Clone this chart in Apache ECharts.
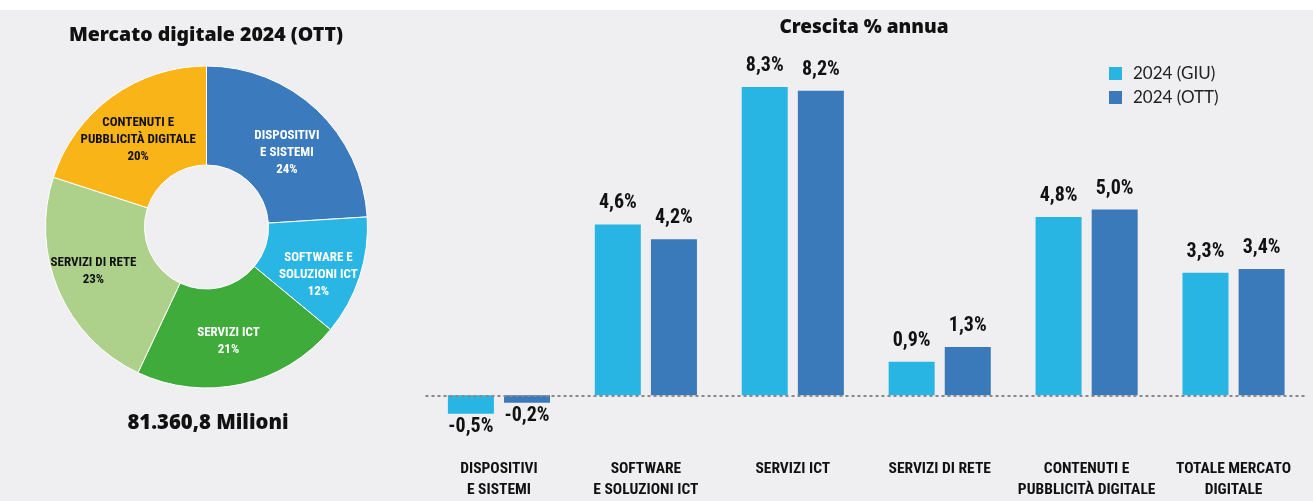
<!DOCTYPE html>
<html>
<head>
<meta charset="utf-8">
<script src="https://cdn.jsdelivr.net/npm/echarts@6/dist/echarts.min.js"></script>
<style>
  html, body { margin: 0; padding: 0; background: #ffffff; }
  #chart { width: 1313px; height: 501px; }
</style>
</head>
<body>
<div id="chart"></div>
<script>
// Growth by market segment (% yearly), two estimates of 2024
const categories = [
  'DISPOSITIVI\nE SISTEMI',
  'SOFTWARE\nE SOLUZIONI ICT',
  'SERVIZI ICT',
  'SERVIZI DI RETE',
  'CONTENUTI E\nPUBBLICITÀ DIGITALE',
  'TOTALE MERCATO\nDIGITALE'
];
const growthGiu = [-0.5, 4.6, 8.3, 0.9, 4.8, 3.3];
const growthOtt = [-0.2, 4.2, 8.2, 1.3, 5.0, 3.4];
const seriesNames = ['2024 (GIU)', '2024 (OTT)'];

// Market composition 2024 (OTT), share of total
const segmentNames = [
  'DISPOSITIVI\nE SISTEMI',
  'SOFTWARE E\nSOLUZIONI ICT',
  'SERVIZI ICT',
  'SERVIZI DI RETE',
  'CONTENUTI E\nPUBBLICITÀ DIGITALE'
];
const segmentShares = [24, 12, 21, 23, 20];
const marketTotal = '81.360,8 Milioni';

const segmentColors = ['#3b7bbd', '#29b6e5', '#3fab3b', '#add18b', '#f9b418'];
const segmentTextColors = ['#ffffff', '#ffffff', '#ffffff', '#111111', '#111111'];
// small nudges so each slice label sits comfortably inside its wedge
const segmentLabelOffsets = [[2, 9], [3, 12], [-3, 3], [-8, -1], [-1, 5]];
const barColors = ['#29b5e3', '#3b7aba'];

const labelFont = '"Roboto Condensed", Roboto, sans-serif';
const heading = '"Noto Sans", "Open Sans", sans-serif';
const legendFont = 'Lato, "Noto Sans", sans-serif';

const pct = v => v.toFixed(1).replace('.', ',') + '%';

const chart = echarts.init(document.getElementById('chart'), null, { renderer: 'canvas' });

const barLabel = {
  show: true,
  position: 'top',
  distance: 11,
  fontFamily: labelFont,
  fontWeight: 'bold',
  fontSize: 20,
  color: '#111111',
  formatter: p => pct(p.value)
};

function barData(values) {
  return values.map(v => ({
    value: v,
    label: v < 0 ? { position: 'bottom', distance: 3 } : undefined
  }));
}

chart.setOption({
  animation: false,
  backgroundColor: 'transparent',
  graphic: [
    {
      type: 'rect', z: -10, silent: true,
      shape: { x: 0, y: 10, width: 1313, height: 491 },
      style: { fill: '#efeff1' }
    },
    {
      type: 'text', x: 206, y: 35,
      style: {
        text: 'Mercato digitale 2024 (OTT)', fill: '#111111',
        font: '900 19.5px ' + heading, align: 'center', verticalAlign: 'middle'
      }
    },
    {
      type: 'text', x: 208, y: 423,
      style: {
        text: marketTotal, fill: '#111111',
        font: '900 20.3px ' + heading, align: 'center', verticalAlign: 'middle'
      }
    },
    {
      type: 'text', x: 864, y: 28,
      style: {
        text: 'Crescita % annua', fill: '#111111',
        font: '900 19px ' + heading, align: 'center', verticalAlign: 'middle'
      }
    }
  ],
  legend: {
    orient: 'vertical',
    left: 1109,
    top: 65,
    padding: 0,
    icon: 'rect',
    itemWidth: 13,
    itemHeight: 13,
    itemGap: 7,
    data: seriesNames,
    textStyle: {
      fontFamily: legendFont,
      fontSize: 17,
      lineHeight: 17,
      color: '#222222',
      padding: [0, 0, 0, 6]
    }
  },
  grid: {
    left: 425.5,
    right: 6,
    top: 61,
    bottom: 43.3,
    containLabel: false
  },
  xAxis: {
    type: 'category',
    data: categories,
    axisLine: { show: false, onZero: false },
    axisTick: { show: false },
    axisLabel: {
      interval: 0,
      margin: 8,
      fontFamily: labelFont,
      fontWeight: 'bold',
      fontSize: 15.5,
      lineHeight: 21,
      color: '#111111'
    }
  },
  yAxis: {
    type: 'value',
    min: -1.5,
    max: 9,
    show: false,
    splitLine: { show: false }
  },
  series: [
    {
      type: 'pie',
      center: [206.5, 227],
      radius: [62, 161],
      startAngle: 90,
      clockwise: true,
      avoidLabelOverlap: false,
      itemStyle: { borderColor: '#ffffff', borderWidth: 1 },
      label: {
        show: true,
        position: 'inside',
        fontFamily: labelFont,
        fontWeight: 'bold',
        fontSize: 13,
        lineHeight: 17,
        align: 'center',
        formatter: p => p.name + '\n' + p.value + '%'
      },
      labelLine: { show: false },
      emphasis: { disabled: true },
      data: segmentNames.map((n, i) => ({
        name: n,
        value: segmentShares[i],
        itemStyle: { color: segmentColors[i] },
        label: { color: segmentTextColors[i], offset: segmentLabelOffsets[i] }
      }))
    },
    {
      name: seriesNames[0],
      type: 'bar',
      barWidth: 46,
      barGap: '22%',
      itemStyle: { color: barColors[0] },
      label: barLabel,
      data: barData(growthGiu),
      markLine: {
        silent: true,
        symbol: 'none',
        label: { show: false },
        lineStyle: { color: '#8a8a8a', width: 2, type: [3, 3] },
        data: [{ yAxis: 0 }]
      }
    },
    {
      name: seriesNames[1],
      type: 'bar',
      barWidth: 46,
      barGap: '22%',
      itemStyle: { color: barColors[1] },
      label: barLabel,
      data: barData(growthOtt)
    }
  ]
});
</script>
</body>
</html>
